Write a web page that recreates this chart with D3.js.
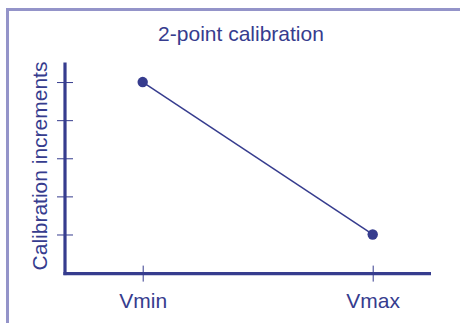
<!DOCTYPE html>
<html>
<head>
<meta charset="utf-8">
<script src="https://cdn.jsdelivr.net/npm/d3@7"></script>
<style>
  html, body { margin: 0; padding: 0; background: #fff; }
  svg { display: block; }
</style>
</head>
<body>
<svg id="chart" width="460" height="323"></svg>
<script>
// Calibration data: two reference points
const categories = ["Vmin", "Vmax"];
const values = [5, 1];
const yTicks = [1, 2, 3, 4, 5];
const titleText = "2-point calibration";
const yLabelText = "Calibration increments";

const W = 460, H = 323;
const ink = "#363c8e";
const frame = "#9494c9";
const font = "'Liberation Sans', Arial, Helvetica, sans-serif";

const svg = d3.select("#chart");

// frame (open on right and bottom)
svg.append("rect")
  .attr("x", 7.5).attr("y", 9.5)
  .attr("width", 600).attr("height", 400)
  .attr("fill", "none")
  .attr("stroke", frame)
  .attr("stroke-width", 3);

const axisX0 = 65, axisX1 = 431;
const x = d3.scalePoint().domain(categories).range([142.7, 372.7]).padding(0);
const y = d3.scaleLinear().domain([0, 5.5]).range([272.6, 63]);

// title
svg.append("text")
  .attr("x", 241).attr("y", 40.5)
  .attr("text-anchor", "middle")
  .attr("font-family", font).attr("font-size", 21)
  .attr("fill", ink)
  .text(titleText);

// y axis label
svg.append("text")
  .attr("transform", `translate(46.5,166) rotate(-90)`)
  .attr("text-anchor", "middle")
  .attr("font-family", font).attr("font-size", 21)
  .attr("fill", ink)
  .text(yLabelText);

// y axis ticks crossing the axis line
const yAxis = d3.axisLeft(y).tickValues(yTicks).tickSize(8).tickFormat("");
const gy = svg.append("g").attr("transform", `translate(${axisX0},0)`).call(yAxis);
gy.select(".domain").remove();
gy.selectAll(".tick line")
  .attr("x1", -8).attr("x2", 8)
  .attr("stroke", ink).attr("stroke-width", 1);

// x axis ticks and labels
const baseY = y(0) + 1;
const xAxis = d3.axisBottom(x).tickSize(8).tickPadding(0);
const gx = svg.append("g").attr("transform", `translate(0,${baseY})`).call(xAxis);
gx.select(".domain").remove();
gx.selectAll(".tick line")
  .attr("y1", -8).attr("y2", 8)
  .attr("stroke", ink).attr("stroke-width", 1);
gx.selectAll(".tick text")
  .attr("y", 34.5).attr("dy", null)
  .attr("font-family", font).attr("font-size", 21)
  .attr("fill", ink);

// main axis lines
svg.append("line")
  .attr("x1", axisX0).attr("x2", axisX0)
  .attr("y1", 62.5).attr("y2", baseY + 1.5)
  .attr("stroke", ink).attr("stroke-width", 3.2);
svg.append("line")
  .attr("x1", axisX0 - 1.6).attr("x2", axisX1)
  .attr("y1", baseY).attr("y2", baseY)
  .attr("stroke", ink).attr("stroke-width", 3.2);

// calibration line and points
const pts = categories.map((c, i) => ({ c, v: values[i] }));
svg.append("path")
  .datum(pts)
  .attr("d", d3.line().x(d => x(d.c)).y(d => y(d.v)))
  .attr("fill", "none")
  .attr("stroke", ink).attr("stroke-width", 1.5);
svg.selectAll("circle.pt")
  .data(pts).enter().append("circle")
  .attr("class", "pt")
  .attr("cx", d => x(d.c)).attr("cy", d => y(d.v))
  .attr("r", 5.2)
  .attr("fill", ink);
</script>
</body>
</html>
